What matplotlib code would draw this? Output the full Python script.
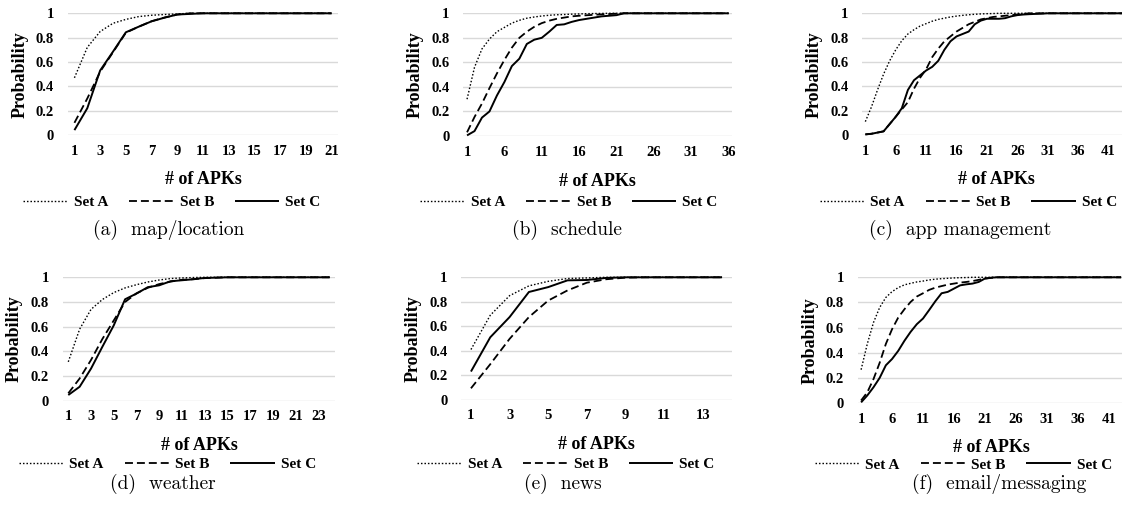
import matplotlib
matplotlib.use("Agg")
import matplotlib.pyplot as plt
import numpy as np

# ---- data (CDF of # of APKs per category) ----
map_a = [0.47, 0.72, 0.85, 0.918, 0.95, 0.973, 0.984, 0.99, 0.995, 1.0] + [1.0] * 11
map_b = [0.10, 0.30, 0.52, 0.68, 0.84, 0.89, 0.935, 0.965, 0.99, 1.0] + [1.0] * 11
map_c = [0.04, 0.22, 0.53, 0.685, 0.844, 0.89, 0.934, 0.964, 0.99, 0.995] + [1.0] * 11

sched_a = [0.30, 0.56, 0.71, 0.79, 0.85, 0.885, 0.92, 0.943, 0.96, 0.97, 0.978,
           0.984, 0.988, 0.99, 0.993, 0.995, 0.997, 0.998, 0.999] + [1.0] * 17
sched_b = [0.03, 0.155, 0.265, 0.39, 0.51, 0.62, 0.72, 0.80, 0.85, 0.89, 0.92,
           0.94, 0.955, 0.965, 0.975, 0.98, 0.984, 0.988, 0.991, 0.994, 0.997] + [1.0] * 15
sched_c = [0.005, 0.04, 0.15, 0.20, 0.33, 0.44, 0.57, 0.63, 0.75, 0.785, 0.80,
           0.85, 0.905, 0.91, 0.93, 0.945, 0.955, 0.965, 0.975, 0.98, 0.985] + [1.0] * 15

app_a = [0.11, 0.23, 0.37, 0.50, 0.61, 0.70, 0.775, 0.83, 0.865, 0.895, 0.915,
         0.935, 0.95, 0.96, 0.97, 0.977, 0.983, 0.988, 0.992, 0.995, 0.997, 0.998] + [1.0] * 22
app_b = [0.005, 0.01, 0.02, 0.03, 0.09, 0.15, 0.21, 0.27, 0.38, 0.47, 0.54,
         0.64, 0.71, 0.77, 0.81, 0.85, 0.88, 0.91, 0.93, 0.95, 0.96, 0.97,
         0.975, 0.98, 0.985, 0.99, 0.995] + [1.0] * 17
app_c = [0.005, 0.01, 0.02, 0.03, 0.09, 0.15, 0.22, 0.37, 0.45, 0.49, 0.53,
         0.56, 0.61, 0.70, 0.77, 0.81, 0.83, 0.85, 0.91, 0.94, 0.955, 0.955,
         0.955, 0.96, 0.975, 0.985, 0.99, 0.993, 0.995, 0.997] + [1.0] * 14

weather_a = [0.315, 0.58, 0.74, 0.82, 0.876, 0.914, 0.94, 0.962, 0.978, 0.99,
             0.995, 0.998] + [1.0] * 12
weather_b = [0.06, 0.18, 0.33, 0.50, 0.65, 0.80, 0.87, 0.915, 0.945, 0.965,
             0.98, 0.985, 0.993, 0.997] + [1.0] * 10
weather_c = [0.046, 0.113, 0.26, 0.437, 0.61, 0.822, 0.868, 0.92, 0.935, 0.968,
             0.976, 0.984, 0.995, 0.997] + [1.0] * 10

news_a = [0.41, 0.69, 0.85, 0.93, 0.967, 0.99, 0.995] + [1.0] * 7
news_b = [0.093, 0.29, 0.497, 0.675, 0.81, 0.893, 0.956, 0.984, 0.997] + [1.0] * 5
news_c = [0.23, 0.51, 0.675, 0.88, 0.92, 0.975, 0.978, 0.995] + [1.0] * 6

email_a = [0.265, 0.47, 0.64, 0.76, 0.84, 0.886, 0.918, 0.94, 0.952, 0.963, 0.97,
           0.979, 0.985, 0.989, 0.992, 0.995, 0.997, 0.998] + [1.0] * 25
email_b = [0.02, 0.085, 0.19, 0.32, 0.47, 0.587, 0.68, 0.746, 0.804, 0.847, 0.873,
           0.90, 0.918, 0.93, 0.942, 0.95, 0.958, 0.963, 0.97, 0.98, 0.99, 0.995] + [1.0] * 21
email_c = [0.005, 0.06, 0.125, 0.20, 0.30, 0.35, 0.415, 0.495, 0.566, 0.627, 0.672,
           0.74, 0.81, 0.873, 0.884, 0.91, 0.936, 0.944, 0.95, 0.963, 0.99, 0.997] + [1.0] * 21

captions = ["(a)  map/location", "(b)  schedule", "(c)  app management",
            "(d)  weather", "(e)  news", "(f)  email/messaging"]
series_names = ["Set A", "Set B", "Set C"]
y_ticks = [0, 0.2, 0.4, 0.6, 0.8, 1.0]
y_ticklabels = ["0", "0.2", "0.4", "0.6", "0.8", "1"]

panels = [
    # data, tick step, (left, top, right, bottom) px, legend center, caption center
    ((map_a, map_b, map_c), 2, (68, 13.3, 338, 135), (172, 202), (169, 230)),
    ((sched_a, sched_b, sched_c), 5, (463.3, 13.3, 732.3, 136), (569, 202), (567, 230)),
    ((app_a, app_b, app_c), 5, (862.3, 13.3, 1129.8, 135), (968.5, 202), (960, 230)),
    ((weather_a, weather_b, weather_c), 2, (62.6, 277.3, 335.3, 400.7), (167.5, 464), (163, 484)),
    ((news_a, news_b, news_c), 2, (461.3, 277.3, 731.7, 399.7), (566, 464), (563, 484)),
    ((email_a, email_b, email_c), 5, (858, 277.3, 1124.2, 403), (963.5, 464.7), (999, 484)),
]

W, H = 1122, 508
FONT = "Liberation Serif"
styles = [
    dict(linestyle=(0, (1.1, 1.4)), linewidth=1.0),
    dict(linestyle=(0, (4.4, 2.2)), linewidth=1.3),
    dict(linestyle="-", linewidth=1.4),
]

fig = plt.figure(figsize=(W / 100, H / 100), dpi=100)

for (data, step, (l, t, r, b), leg_c, cap_c), cap in zip(panels, captions):
    ax = fig.add_axes([l / W, 1 - b / H, (r - l) / W, (b - t) / H])
    n = len(data[0])
    x = np.arange(1, n + 1)
    handles = []
    for ys, st, name in zip(data, styles, series_names):
        h, = ax.plot(x, ys, color="black", clip_on=False, label=name,
                     solid_capstyle="butt", **st)
        handles.append(h)
    ax.set_xlim(0.5, n + 0.5)
    ax.set_ylim(0, 1)
    ax.set_xticks(x[::step])
    ax.set_xticklabels([str(v) for v in x[::step]], fontfamily=FONT,
                       fontweight="bold", fontsize=10.5)
    ax.set_yticks(y_ticks)
    ax.set_yticklabels(y_ticklabels, fontfamily=FONT, fontweight="bold",
                       fontsize=10.5)
    ax.tick_params(length=0, axis="y", pad=10)
    ax.tick_params(length=0, axis="x", pad=7)
    ax.grid(axis="y", color="#d9d9d9", linewidth=1.0)
    ax.set_axisbelow(True)
    for sp in ax.spines.values():
        sp.set_visible(False)
    wpx, hpx = r - l, b - t
    ax.text(0.5, -45 / hpx, "# of APKs", transform=ax.transAxes, ha="center",
            va="center", fontfamily=FONT, fontweight="bold", fontsize=13)
    ax.text(-48 / wpx, 0.5, "Probability", transform=ax.transAxes, ha="center",
            va="center", rotation=90, fontfamily=FONT, fontweight="bold",
            fontsize=13)
    fig.legend(handles=handles, loc="center",
               bbox_to_anchor=(leg_c[0] / W, 1 - leg_c[1] / H), ncol=3,
               frameon=False, handlelength=2.9, handletextpad=0.4,
               columnspacing=1.37, borderpad=0,
               prop=dict(family=FONT, weight="bold", size=11))
    fig.text(cap_c[0] / W, 1 - cap_c[1] / H, cap, ha="center", va="center",
             fontfamily="cmr10", fontsize=14)

fig.savefig("out.png", dpi=100)
